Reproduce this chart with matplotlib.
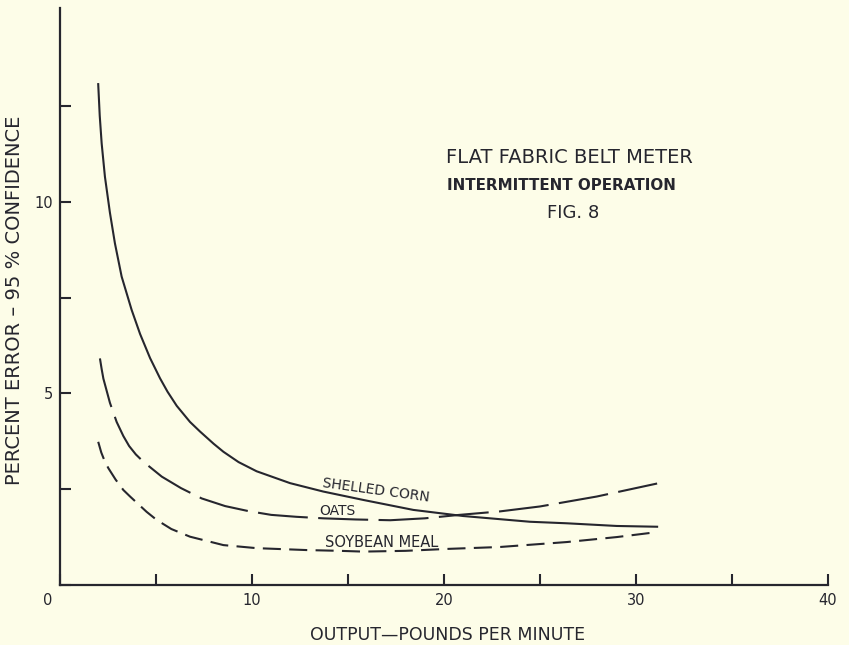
import matplotlib
matplotlib.use("Agg")
import matplotlib.pyplot as plt
import matplotlib.transforms as mtransforms

# ---- data ----
corn_x = [1.99, 2.07, 2.17, 2.34, 2.6, 2.86, 3.21, 3.73, 4.17, 4.69, 5.21, 5.6, 6.08, 6.77,
          7.29, 8.0, 8.51, 9.3, 10.24, 11.98, 13.71, 15.8, 18.4, 21.0, 24.48, 26.4, 29.0, 31.1]
corn_y = [13.08, 12.25, 11.53, 10.66, 9.72, 8.92, 8.05, 7.18, 6.55, 5.92, 5.39, 5.04, 4.67, 4.25,
          4.00, 3.68, 3.47, 3.20, 2.96, 2.65, 2.43, 2.21, 1.95, 1.79, 1.64, 1.60, 1.53, 1.51]

oats_x = [2.08, 2.17, 2.26, 2.6, 2.95, 3.3, 3.6, 3.95, 4.34, 5.3, 6.3, 7.38, 8.6, 9.8, 11.0,
          12.3, 13.7, 15.4, 17.2, 19.0, 20.8, 22.9, 25.0, 27.96, 31.1]
oats_y = [5.91, 5.63, 5.38, 4.75, 4.25, 3.88, 3.62, 3.40, 3.21, 2.82, 2.52, 2.25, 2.05, 1.92, 1.82,
          1.77, 1.73, 1.70, 1.68, 1.73, 1.82, 1.91, 2.04, 2.30, 2.64]

soy_x = [1.99, 2.15, 2.34, 2.52, 2.9, 3.3, 3.65, 4.51, 5.03, 5.8, 6.77, 8.51, 10.24, 12.85, 14.58,
         15.78, 18.0, 20.16, 22.9, 26.4, 29.0, 31.1]
soy_y = [3.73, 3.45, 3.21, 3.04, 2.74, 2.47, 2.30, 1.90, 1.69, 1.45, 1.25, 1.03, 0.95, 0.90, 0.88,
         0.86, 0.88, 0.93, 0.98, 1.11, 1.24, 1.37]

x_ticks = [0, 5, 10, 15, 20, 25, 30, 35, 40]
x_tick_labels = ["0", "", "10", "", "20", "", "30", "", "40"]
y_ticks = [0, 2.5, 5, 7.5, 10, 12.5]
y_tick_labels = ["", "", "5", "", "10", ""]

title_lines = ["FLAT FABRIC BELT METER", "INTERMITTENT OPERATION", "FIG. 8"]
series_labels = ["SHELLED CORN", "OATS", "SOYBEAN MEAL"]
x_label = "OUTPUT\u2014POUNDS PER MINUTE"
y_label = "PERCENT ERROR \u2013 95 % CONFIDENCE"

# ---- style ----
BG = "#fdfde8"
INK = "#26262e"
plt.rcParams["font.family"] = ["DejaVu Sans"]
plt.rcParams["lines.scale_dashes"] = False

W, H, DPI = 849, 645, 100
fig = plt.figure(figsize=(W / DPI, H / DPI), dpi=DPI, facecolor=BG)
ax = fig.add_axes([60 / W, 1 - 584.5 / H, (828 - 60) / W, (584.5 - 8) / H])
ax.set_facecolor(BG)

lw = 1.5
ax.plot(corn_x, corn_y, color=INK, lw=lw, solid_joinstyle="round")
l2, = ax.plot(oats_x, oats_y, color=INK, lw=lw, dash_joinstyle="round")
l2.set_dashes((36, 7.5))
l3, = ax.plot(soy_x, soy_y, color=INK, lw=lw, dash_joinstyle="round")
l3.set_dashes((13, 6))

ax.set_xlim(0, 40)
ax.set_ylim(0, 15.07)
for s in ["top", "right"]:
    ax.spines[s].set_visible(False)
for s in ["left", "bottom"]:
    ax.spines[s].set_linewidth(1.6)
    ax.spines[s].set_color(INK)

ax.set_xticks(x_ticks)
ax.set_xticklabels(x_tick_labels)
ax.set_yticks(y_ticks)
ax.set_yticklabels(y_tick_labels)
ax.tick_params(direction="in", length=8, width=1.5, color=INK, labelcolor=INK,
               labelsize=10.5)
ax.tick_params(axis="x", pad=6)
ax.tick_params(axis="y", pad=5)

# shift the "0" label left of the origin
off = mtransforms.ScaledTranslation(-12 / DPI, 0, fig.dpi_scale_trans)
lab0 = ax.get_xticklabels()[0]
lab0.set_transform(lab0.get_transform() + off)

# axis titles
fig.text(15 / W, 1 - 300 / H, y_label, rotation=90, ha="center", va="center",
         fontsize=14, color=INK)
fig.text(448 / W, 1 - 635 / H, x_label, ha="center", va="center",
         fontsize=12.5, color=INK)

# chart title block
ax.text(20.1, 11.16, title_lines[0], ha="left", va="center", fontsize=14, color=INK)
ax.text(20.16, 10.44, title_lines[1], ha="left", va="center", fontsize=10.9,
        fontweight="bold", color=INK)
ax.text(26.7, 9.72, title_lines[2], ha="center", va="center", fontsize=13, color=INK)

# curve labels
ax.text(16.46, 2.47, series_labels[0], ha="center", va="center", fontsize=10,
        rotation=-7.8, color=INK)
ax.text(14.45, 1.91, series_labels[1], ha="center", va="center", fontsize=10, color=INK)
ax.text(16.74, 1.10, series_labels[2], ha="center", va="center", fontsize=10.5, color=INK)

fig.savefig("out.png", dpi=DPI, facecolor=BG)
